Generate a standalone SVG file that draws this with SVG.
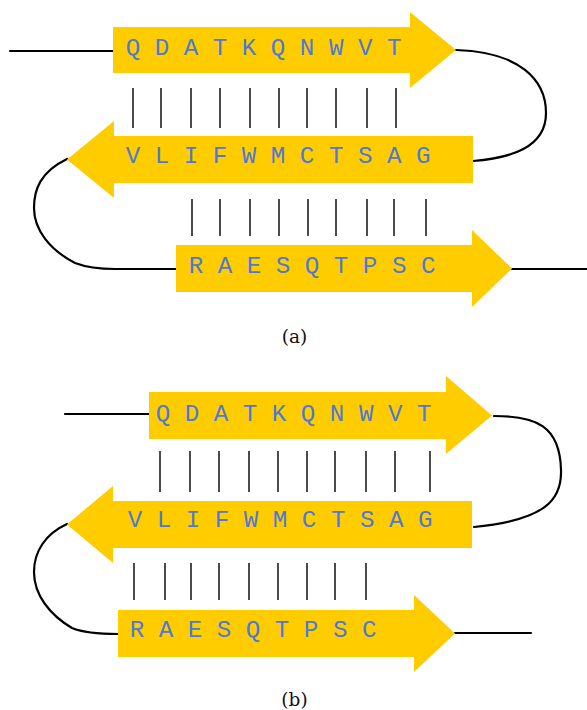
<svg xmlns="http://www.w3.org/2000/svg" width="587" height="710" viewBox="0 0 587 710">
<style>
.strand{fill:#FFCC00;stroke:none}
.seq{font-family:"Liberation Mono","Courier New",monospace;font-size:24.2px;fill:#4F78D6}
.bond{stroke:#111;stroke-width:1.5;fill:none}
.loop{stroke:#000;stroke-width:2.2;fill:none;stroke-linecap:round}
.cap{font-family:"DejaVu Serif","Liberation Serif",serif;font-size:18.5px;fill:#111;text-anchor:middle}
</style>
<g id="connectors">
<path class="loop" d="M10,51 H113"/>
<path class="loop" d="M456,50 C520,52 546,80 546,113 C546,148 510,158 473,161"/>
<path class="loop" d="M67,159 C40,172 34,190 34,208 C34,230 50,250 75,263 C88,268 100,269 115,269 L176,269"/>
<path class="loop" d="M512,269 H587"/>
<path class="loop" d="M65,414 H149"/>
<path class="loop" d="M494,416 C535,416 560,425 561,470 C562,500 545,520 474,527"/>
<path class="loop" d="M67,524 C45,534 34,552 34,572 C34,595 50,615 72,628 C84,633 100,634 118,634"/>
<path class="loop" d="M455,633 H531"/>
</g>
<g id="bonds-a">
<path class="bond" d="M133,88V128M161,88V128M191,88V128M220,88V128M250,88V128M279,88V128M307,88V128M336,88V128M367,88V128M396,88V128"/>
<path class="bond" d="M192,199V236M220,199V236M250,199V236M279,199V236M308,199V236M336,199V236M367,199V236M394,199V236M426,199V236"/>
</g>
<g id="bonds-b">
<path class="bond" d="M160,451V492M190,451V492M219,451V492M249,451V492M278,451V492M307,451V492M335,451V492M366,451V492M395,451V492M430,451V492"/>
<path class="bond" d="M134,563V600M165,563V600M191,563V600M219,563V600M249,563V600M278,563V600M307,563V600M335,563V600M366,563V600"/>
</g>
<g id="a-strand1">
<path class="strand" d="M113,27H410V12L456,50L410,88V73H113Z"/>
<text class="seq" x="125.7" y="55">Q D A T K Q N W V T</text>
</g>
<g id="a-strand2">
<path class="strand" d="M473,136H114V121L67,159.5L114,198V183H473Z"/>
<text class="seq" x="125.7" y="163">V L I F W M C T S A G</text>
</g>
<g id="a-strand3">
<path class="strand" d="M176,245H472V230L512,268.5L472,307V292H176Z"/>
<text class="seq" x="188.7" y="273">R A E S Q T P S C</text>
</g>
<g id="label-a"><text class="cap" x="294.5" y="343">(a)</text></g>
<g id="b-strand1">
<path class="strand" d="M149,392H446V376L492,415.5L446,454V439H149Z"/>
<text class="seq" x="155.7" y="421">Q D A T K Q N W V T</text>
</g>
<g id="b-strand2">
<path class="strand" d="M472,501H113V486L67,524.5L113,563V548H472Z"/>
<text class="seq" x="127.7" y="527">V L I F W M C T S A G</text>
</g>
<g id="b-strand3">
<path class="strand" d="M118,610H414V595L455,633.5L414,672V657H118Z"/>
<text class="seq" x="129.7" y="637">R A E S Q T P S C</text>
</g>
<g id="label-b"><text class="cap" x="294.5" y="706">(b)</text></g>
</svg>
